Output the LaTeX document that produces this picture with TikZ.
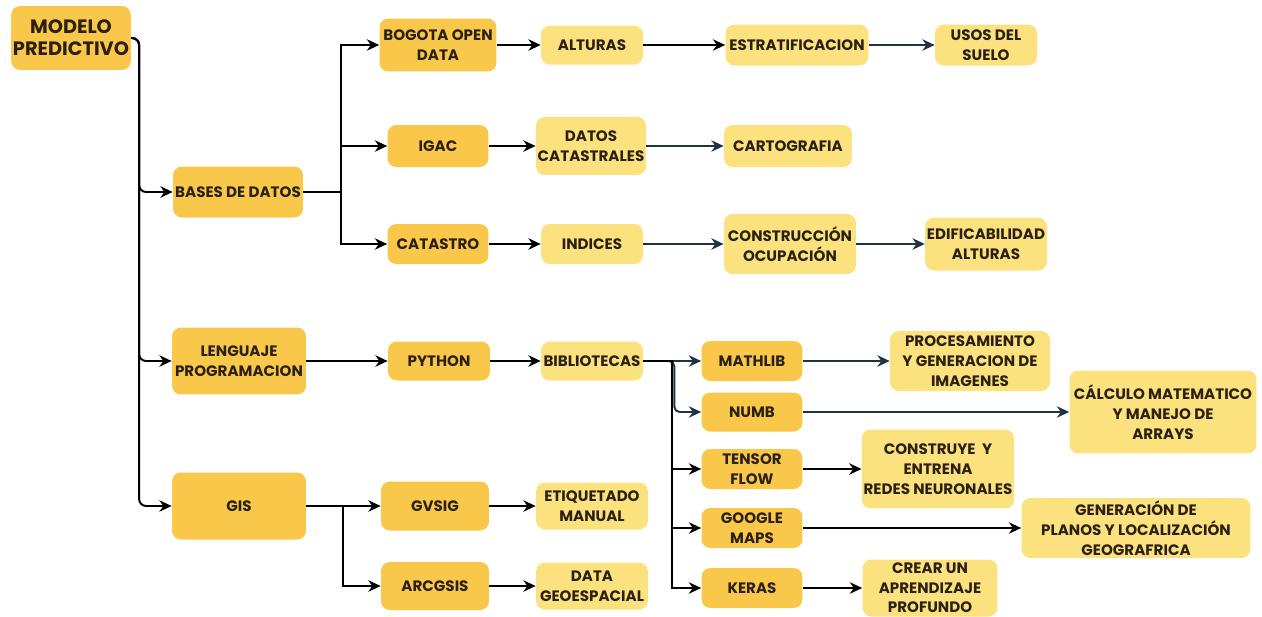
\documentclass[tikz,border=0pt]{standalone}
\usepackage{fontspec}
\setmainfont{Poppins}
\usetikzlibrary{arrows.meta}

\definecolor{darkfill}{HTML}{F9C84A}
\definecolor{lightfill}{HTML}{FCE27E}
\definecolor{inkcol}{HTML}{2B2112}
\definecolor{tealline}{HTML}{1E3440}

\tikzset{
    dark/.style={fill=darkfill, rounded corners=5pt, align=center, inner sep=1pt, text=inkcol,
        font=\fontsize{8.6}{11.2}\selectfont\bfseries},
    light/.style={fill=lightfill, rounded corners=5pt, align=center, inner sep=1pt, text=inkcol,
        font=\fontsize{8.6}{11.2}\selectfont\bfseries},
    arrow/.style={-{Stealth[length=7pt,width=6.5pt]}, line width=1.1pt, black},
    tarrow/.style={arrow, tealline}
}

\begin{document}
\begin{tikzpicture}[x=0.02cm, y=-0.02cm]
    \useasboundingbox (0,0) rectangle (1262,616);

    % Draw the root
    \node[dark, minimum width=2.36cm, minimum height=1.28cm, font=\fontsize{11}{12.4}\selectfont\bfseries] (modelo) at (71,38) {MODELO\\PREDICTIVO};

    % Draw the first level
    \node[dark, minimum width=2.6cm, minimum height=1.02cm] (bases) at (238,192) {BASES DE DATOS};
    \node[dark, minimum width=2.68cm, minimum height=1.34cm] (lenguaje) at (239,361) {LENGUAJE\\PROGRAMACION};
    \node[dark, minimum width=2.68cm, minimum height=1.34cm] (gis) at (239,506) {GIS};

    % Draw the data sources
    \node[dark, minimum width=2.34cm, minimum height=1.06cm] (bogota) at (438,45) {BOGOTA OPEN\\DATA};
    \node[dark, minimum width=2.02cm, minimum height=0.84cm] (igac) at (438,146) {IGAC};
    \node[dark, minimum width=2.02cm, minimum height=0.8cm] (catastro) at (438,244) {CATASTRO};

    \node[light, minimum width=2.04cm, minimum height=0.78cm] (alturas) at (592,45) {ALTURAS};
    \node[light, minimum width=2.86cm, minimum height=0.82cm] (estrat) at (797,45) {ESTRATIFICACION};
    \node[light, minimum width=2.04cm, minimum height=0.82cm] (usos) at (986,45) {USOS DEL\\SUELO};

    \node[light, minimum width=2.04cm, minimum height=1.16cm] (datoscat) at (591,146) {DATOS\\CATASTRALES};
    \node[light, minimum width=2.56cm, minimum height=0.84cm] (carto) at (788,146) {CARTOGRAFIA};

    \node[light, minimum width=2.04cm, minimum height=0.8cm] (indices) at (592,244) {INDICES};
    \node[light, minimum width=2.64cm, minimum height=1.2cm] (constr) at (790,244) {CONSTRUCCIÓN\\OCUPACIÓN};
    \node[light, minimum width=2.4cm, minimum height=1.06cm] (edif) at (986,244) {EDIFICABILIDAD\\ALTURAS};

    % Draw the programming branch
    \node[dark, minimum width=2.04cm, minimum height=0.78cm] (python) at (439,361) {PYTHON};
    \node[light, minimum width=2.04cm, minimum height=0.78cm] (biblio) at (592,361) {BIBLIOTECAS};

    \node[dark, minimum width=2.02cm, minimum height=0.8cm] (mathlib) at (752,361) {MATHLIB};
    \node[dark, minimum width=2.02cm, minimum height=0.78cm] (numb) at (752,412) {NUMB};
    \node[dark, minimum width=2.02cm, minimum height=0.8cm] (tensor) at (752,469) {TENSOR\\FLOW};
    \node[dark, minimum width=2.02cm, minimum height=0.8cm] (google) at (752,528) {GOOGLE\\MAPS};
    \node[dark, minimum width=2.02cm, minimum height=0.8cm] (keras) at (752,588) {KERAS};

    \node[light, minimum width=3.2cm, minimum height=1.2cm] (proc) at (970,361) {PROCESAMIENTO\\Y GENERACION DE\\IMAGENES};
    \node[light, minimum width=3.74cm, minimum height=1.66cm] (calc) at (1163,412) {CÁLCULO MATEMATICO\\Y MANEJO DE\\ARRAYS};
    \node[light, minimum width=3.04cm, minimum height=1.58cm] (construye) at (938,469) {CONSTRUYE~~Y\\ENTRENA\\REDES NEURONALES};
    \node[light, minimum width=4.58cm, minimum height=1.2cm] (genera) at (1136,528) {GENERACIÓN DE\\PLANOS Y LOCALIZACIÓN\\GEOGRAFRICA};
    \node[light, minimum width=2.7cm, minimum height=1.14cm] (crear) at (930,588) {CREAR UN\\APRENDIZAJE\\PROFUNDO};

    % Draw the GIS branch
    \node[dark, minimum width=2.16cm, minimum height=0.98cm] (gvsig) at (435,506) {GVSIG};
    \node[dark, minimum width=2.16cm, minimum height=0.96cm] (arcgsis) at (435,586) {ARCGSIS};
    \node[light, minimum width=2.24cm, minimum height=0.94cm] (etiq) at (592,506) {ETIQUETADO\\MANUAL};
    \node[light, minimum width=2.24cm, minimum height=0.94cm] (datageo) at (592,586) {DATA\\GEOESPACIAL};

    % Draw connections
    \draw[arrow, rounded corners=4pt] (modelo.east) -- ++(8,0) |- (bases.west);
    \draw[arrow, rounded corners=4pt] (modelo.east) -- ++(8,0) |- (lenguaje.west);
    \draw[arrow, rounded corners=4pt] (modelo.east) -- ++(8,0) |- (gis.west);

    \draw[arrow] (bases.east) -- ++(38,0) |- (bogota.west);
    \draw[arrow] (bases.east) -- ++(38,0) |- (igac.west);
    \draw[arrow] (bases.east) -- ++(38,0) |- (catastro.west);

    \draw[arrow] (bogota) -- (alturas);
    \draw[arrow] (alturas) -- (estrat);
    \draw[tarrow] (estrat) -- (usos);
    \draw[arrow] (igac) -- (datoscat);
    \draw[tarrow] (datoscat) -- (carto);
    \draw[arrow] (catastro) -- (indices);
    \draw[tarrow] (indices) -- (constr);
    \draw[tarrow] (constr) -- (edif);

    \draw[arrow] (lenguaje) -- (python);
    \draw[arrow] (python) -- (biblio);
    \draw[tarrow] (biblio.east) -- (mathlib.west);
    \draw[tarrow, rounded corners=3pt] (biblio.east) -- ++(31,0) |- (numb.west);
    \draw[arrow] (biblio.east) -- ++(29,0) |- (tensor.west);
    \draw[arrow] (biblio.east) -- ++(29,0) |- (google.west);
    \draw[arrow] (biblio.east) -- ++(29,0) |- (keras.west);

    \draw[tarrow] (mathlib) -- (proc);
    \draw[tarrow] (numb) -- (calc);
    \draw[arrow] (tensor) -- (construye);
    \draw[arrow] (google) -- (genera);
    \draw[arrow] (keras) -- (crear);

    \draw[arrow] (gis) -- (gvsig);
    \draw[arrow] (gis.east) -- ++(37,0) |- (arcgsis.west);
    \draw[arrow] (gvsig) -- (etiq);
    \draw[arrow] (arcgsis) -- (datageo);

\end{tikzpicture}
\end{document}
